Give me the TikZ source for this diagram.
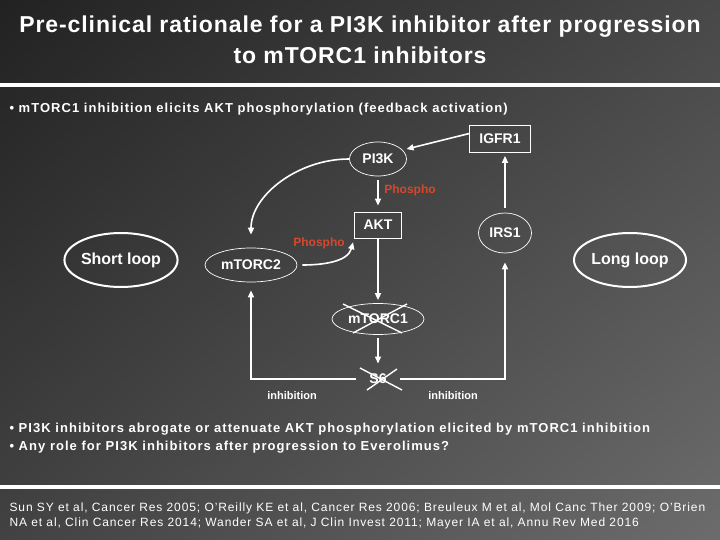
\documentclass[tikz,border=0pt]{standalone}
\usepackage{fontspec}
\setmainfont{Liberation Sans}
\usetikzlibrary{shapes.geometric,arrows.meta,shadings}
\definecolor{phosred}{RGB}{214,72,44}
\definecolor{bgtl}{RGB}{34,34,34}
\definecolor{bgtr}{RGB}{72,72,72}
\definecolor{bgbl}{RGB}{66,66,66}
\definecolor{bgbr}{RGB}{108,108,108}
\begin{document}
\begin{tikzpicture}[x=1pt, y=-1pt, white,
    lbl/.style={font=\bfseries\fontsize{14}{16}\selectfont},
    oval/.style={draw, ellipse, line width=0.7pt, inner sep=0pt, lbl},
    loopoval/.style={draw, ellipse, line width=2pt, inner sep=0pt, minimum width=112pt, minimum height=54pt, font=\bfseries\fontsize{16}{18}\selectfont},
    molbox/.style={draw, rectangle, line width=0.8pt, inner sep=0pt, lbl},
    arr/.style={line width=1.6pt, -{Triangle[length=7pt, width=6pt]}},
    phos/.style={text=phosred, font=\bfseries\fontsize{12}{14}\selectfont},
    inh/.style={font=\bfseries\fontsize{11}{13}\selectfont},
    note/.style={font=\bfseries\fontsize{13}{18}\selectfont\addfontfeature{LetterSpace=8}},
    cross/.style={line width=1.4pt}]
  % Background
  \shade[upper left=bgtl, upper right=bgtr, lower left=bgbl, lower right=bgbr] (0,0) rectangle (720,540);
  \useasboundingbox (0,0) rectangle (720,540);

  % Title and rules
  \node[font=\bfseries\fontsize{23}{31}\selectfont\addfontfeature{LetterSpace=4}, align=center] (title) at (360,40)
    {Pre-clinical rationale for a PI3K inhibitor after progression\\to mTORC1 inhibitors};
  \fill (0,83) rectangle (720,87);
  \fill (0,485) rectangle (720,489);
  \node[anchor=west, note] (topnote) at (6,109)
    {\textbullet\ mTORC1 inhibition elicits AKT phosphorylation (feedback activation)};

  % Pathway nodes
  \node[molbox, minimum width=61pt, minimum height=27pt] (igfr) at (500,139) {IGFR1};
  \node[oval, minimum width=57pt, minimum height=34pt] (pik) at (378,159) {PI3K};
  \node[molbox, minimum width=47pt, minimum height=26pt] (akt) at (378,225) {AKT};
  \node[oval, minimum width=53pt, minimum height=40pt] (irs) at (505,233) {IRS1};
  \node[oval, minimum width=92pt, minimum height=34pt] (mtorctwo) at (251,265) {mTORC2};
  \node[oval, minimum width=92pt, minimum height=31pt] (mtorcone) at (378,319) {mTORC1};
  \node[lbl] (ssix) at (378,379) {S6};
  \node[loopoval] (shortloop) at (121,260) {Short loop};
  \node[loopoval] (longloop) at (630,260) {Long loop};

  % Labels
  \node[phos] (phosone) at (410,190) {Phospho};
  \node[phos] (phostwo) at (319,243) {Phospho};
  \node[inh] (inhleft) at (292,396) {inhibition};
  \node[inh] (inhright) at (453,396) {inhibition};

  % Arrows
  \draw[arr, shorten >=4pt] (igfr.170) -- (pik.20);
  \draw[arr, shorten <=4pt, shorten >=6pt] (pik) -- (akt);
  \draw[arr, shorten >=3pt] (akt) -- (mtorcone);
  \draw[arr, shorten <=3pt, shorten >=7pt] (mtorcone) -- (ssix);
  \draw[arr, shorten <=10pt, shorten >=8pt] (ssix.west) -| (mtorctwo.south);
  \draw[arr, shorten <=10pt, shorten >=9pt] (ssix.east) -| (irs.south);
  \draw[arr, shorten <=5pt, shorten >=3pt] (irs) -- (irs |- igfr.south);
  \draw[arr, shorten >=13pt] (pik.west) to[out=180, in=90] (mtorctwo.north);
  \draw[arr, shorten <=5pt, shorten >=4pt] (mtorctwo.east) to[out=0, in=-105] (akt.south west);

  % Crosses over mTORC1 and S6
  \draw[cross] ([shift={(-35,-15)}]mtorcone.center) -- ([shift={(24,14)}]mtorcone.center);
  \draw[cross] ([shift={(29,-15)}]mtorcone.center) -- ([shift={(-25,14)}]mtorcone.center);
  \draw[cross] ([shift={(-18,-11)}]ssix.center) -- ([shift={(24,11)}]ssix.center);
  \draw[cross] ([shift={(19,-10)}]ssix.center) -- ([shift={(-11,11)}]ssix.center);

  % Bottom notes
  \node[anchor=west, align=left, note] (bottomnote) at (6,438)
    {\textbullet\ PI3K inhibitors abrogate or attenuate AKT phosphorylation elicited by mTORC1 inhibition\\
     \textbullet\ Any role for PI3K inhibitors after progression to Everolimus?};
  \node[anchor=north west, align=left, font=\fontsize{12}{15.5}\selectfont\addfontfeature{LetterSpace=7.5}] (refs) at (6,499)
    {Sun SY et al, Cancer Res 2005; O’Reilly KE et al, Cancer Res 2006; Breuleux M et al, Mol Canc Ther 2009; O’Brien\\
     NA et al, Clin Cancer Res 2014; Wander SA et al, J Clin Invest 2011; Mayer IA et al, Annu Rev Med 2016};
\end{tikzpicture}
\end{document}
